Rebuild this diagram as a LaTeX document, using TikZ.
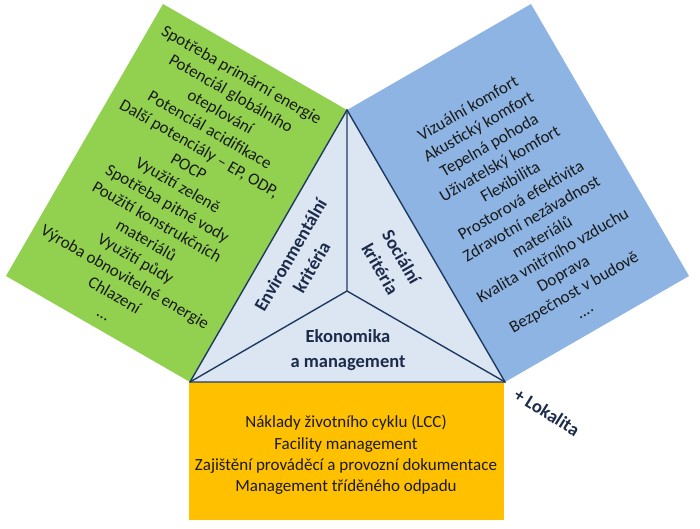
\documentclass[tikz,border=0pt]{standalone}
\usepackage{fontspec}
\setmainfont{Carlito}
\definecolor{envgreen}{HTML}{92D050}
\definecolor{socblue}{HTML}{8DB4E2}
\definecolor{ecoyellow}{HTML}{FFC000}
\definecolor{trifill}{HTML}{DCE6F2}
\definecolor{triline}{HTML}{1F3A60}
\definecolor{labelnavy}{HTML}{1C2B4A}
\definecolor{listink}{HTML}{1A1A1A}
\begin{document}
\begin{tikzpicture}[x=1pt,y=-1pt,
  listtext/.style={align=center, font=\fontsize{17}{21.2}\selectfont, text=listink, inner sep=0pt},
  pillar/.style={align=center, font=\fontsize{18.5}{24.5}\selectfont\bfseries, text=labelnavy, inner sep=0pt},
  edge/.style={draw=triline, line width=1.4pt, line join=miter}
]
\useasboundingbox (0,0) rectangle (700,529);
\coordinate (T) at (347,110);
\coordinate (L) at (190,382);
\coordinate (R) at (505,382);
\coordinate (C) at (347,291);
\coordinate (GA) at (163,4);
\coordinate (GB) at (6,276);
\coordinate (BA) at (531,4);
\coordinate (BB) at (689,276);
\coordinate (YA) at (189,382);
\coordinate (YB) at (504,520);
% panels
\fill[envgreen] (L) -- (T) -- (GA) -- (GB) -- cycle;
\fill[socblue] (T) -- (R) -- (BB) -- (BA) -- cycle;
\fill[ecoyellow] (YA) rectangle (YB);
% triangle
\path[edge, fill=trifill] (T) -- (R) -- (L) -- cycle;
\path[edge] (C) -- (T) (C) -- (L) (C) -- (R);
% panel texts
\node[listtext, rotate=-30] (envlist) at (173,194) {Spotřeba primární energie\\Potenciál globálního\\oteplování\\Potenciál acidifikace\\Další potenciály – EP, ODP,\\POCP\\Využití zeleně\\Spotřeba pitné vody\\Použití konstrukčních\\materiálů\\Využití půdy\\Výroba obnovitelné energie\\Chlazení\\…};
\node[listtext, rotate=30] (soclist) at (526,209) {Vizuální komfort\\Akustický komfort\\Tepelná pohoda\\Uživatelský komfort\\Flexibilita\\Prostorová efektivita\\Zdravotní nezávadnost\\materiálů\\Kvalita vnitřního vzduchu\\Doprava\\Bezpečnost v budově\\....};
\node[listtext] (ecolist) at (346,455) {Náklady životního cyklu (LCC)\\Facility management\\Zajištění prováděcí a provozní dokumentace\\Management tříděného odpadu};
% pillar labels
\node[pillar, rotate=60] (env) at (301,261) {Environmentální\\kritéria};
\node[pillar, rotate=-60] (soc) at (391,263) {Sociální\\kritéria};
\node[pillar] (eco) at (348,350) {Ekonomika\\a management};
\node[pillar, rotate=-32] (lok) at (547,412) {+ Lokalita};
\end{tikzpicture}
\end{document}
